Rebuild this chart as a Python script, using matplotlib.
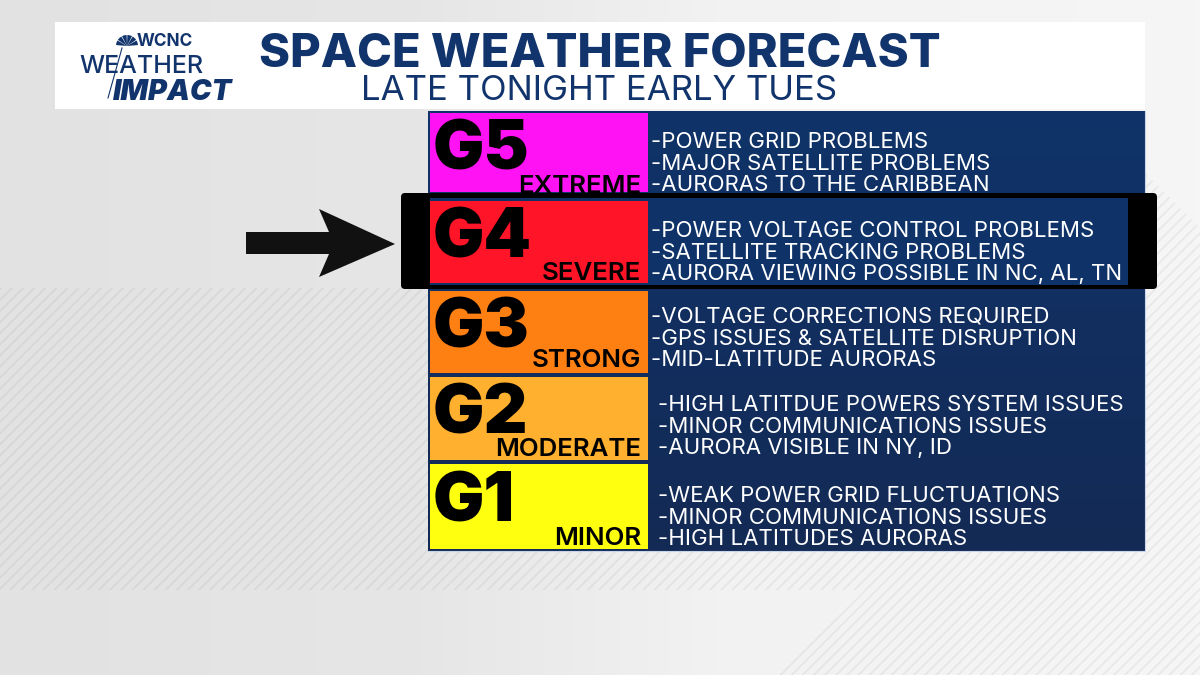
##### Space weather forecast graphic #####
import numpy as np
import matplotlib
matplotlib.use('Agg')
import matplotlib.pyplot as plt
from matplotlib.colors import LinearSegmentedColormap
from matplotlib.patches import Rectangle, Polygon, FancyBboxPatch, Wedge

##### Data #####
title = "SPACE WEATHER FORECAST"
subtitle = "LATE TONIGHT EARLY TUES"

levels = ['G5', 'G4', 'G3', 'G2', 'G1']
severity = ['EXTREME', 'SEVERE', 'STRONG', 'MODERATE', 'MINOR']
level_colors = ['#ff12f4', '#ff1428', '#ff8012', '#ffb02e', '#ffff10']
effects_g5 = ['-POWER GRID PROBLEMS', '-MAJOR SATELLITE PROBLEMS', '-AURORAS TO THE CARIBBEAN']
effects_g4 = ['-POWER VOLTAGE CONTROL PROBLEMS', '-SATELLITE TRACKING PROBLEMS', '-AURORA VIEWING POSSIBLE IN NC, AL, TN']
effects_g3 = ['-VOLTAGE CORRECTIONS REQUIRED', '-GPS ISSUES & SATELLITE DISRUPTION', '-MID-LATITUDE AURORAS']
effects_g2 = ['-HIGH LATITDUE POWERS SYSTEM ISSUES', '-MINOR COMMUNICATIONS ISSUES', '-AURORA VISIBLE IN NY, ID']
effects_g1 = ['-WEAK POWER GRID FLUCTUATIONS', '-MINOR COMMUNICATIONS ISSUES', '-HIGH LATITUDES AURORAS']
effects = [effects_g5, effects_g4, effects_g3, effects_g2, effects_g1]

##### Layout (pixels) #####
row_top = [113, 201, 291, 377, 464]
row_bottom = [192, 283, 373, 460, 549]
level_base = [170, 257, 347, 433, 521]
severity_base = [193, 280, 367, 456, 545]
effect_x = [651, 651, 651, 658, 658]
effect_base = [148, 237, 323, 411, 502]
NAVY = '#12346c'
FONT = 'Inter'

plt.rcParams['font.family'] = [FONT, 'DejaVu Sans']
plt.rcParams['hatch.linewidth'] = 1.3

fig = plt.figure(figsize=(12, 6.75), dpi=100)
ax = fig.add_axes([0, 0, 1, 1])

### background ###
bg_cmap = LinearSegmentedColormap.from_list('bg', [(0, '#e2e2e2'), (0.35, '#e6e6e6'), (0.6, '#f2f2f2'), (1, '#f6f6f6')])
ax.imshow(np.linspace(0, 1, 256).reshape(1, -1), cmap=bg_cmap, extent=(0, 1200, 675, 0), aspect='auto', zorder=0)

stripe_x = [0, 1140, 1140, 1200, 1200, 778, 865, 0]
stripe_y = [288, 288, 168, 228, 675, 675, 590, 590]
ax.add_patch(Polygon(list(zip(stripe_x, stripe_y)), closed=True, facecolor='none', edgecolor=(0, 0, 0, 0.05),
                     linewidth=0, hatch='///', zorder=1))

### header ###
ax.add_patch(Rectangle((55, 22), 1090, 87, facecolor='white', edgecolor='none', zorder=2))
ax.text(600, 67, title, color=NAVY, fontsize=33.9, fontweight=800, ha='center', va='baseline', zorder=3)
ax.text(599.5, 99.5, subtitle, color=NAVY, fontsize=25, ha='center', va='baseline', zorder=3)

# logo
for i in range(6):
    ax.add_patch(Wedge((127, 46), 11, 185 + i * 29, 210 + i * 29, facecolor=NAVY, zorder=3))
ax.text(137, 46, 'WCNC', color=NAVY, fontsize=12.4, fontweight='bold', ha='left', va='baseline', zorder=3)
ax.text(79, 73, 'WEATHER', color=NAVY, fontsize=18, fontweight='medium', ha='left', va='baseline', zorder=3)
ax.text(113, 100, 'IMPACT', color=NAVY, fontsize=20.8, fontweight='black', style='italic', ha='left', va='baseline', zorder=3)
ax.plot([108, 122], [98, 48], color=NAVY, linewidth=0.8, zorder=3)

### table ###
panel_cmap = LinearSegmentedColormap.from_list('panel', ['#0f3369', '#142a55'])
ax.imshow(np.linspace(0, 1, 256).reshape(-1, 1), cmap=panel_cmap, extent=(428, 1145, 551, 111), aspect='auto', zorder=2)
ax.plot([1145, 1145, 428], [111, 551, 551], color='#c8d4e8', linewidth=0.8, zorder=2)

### highlight around G4 ###
ax.add_patch(FancyBboxPatch((401, 193), 756, 96, boxstyle='round,pad=0,rounding_size=4', facecolor='black',
                            edgecolor='none', zorder=4))
ax.add_patch(Rectangle((430, 198), 698, 87, facecolor='#0f3369', edgecolor='none', zorder=4.5))

for i, level in enumerate(levels):
    top = row_top[i]
    bottom = row_bottom[i]
    # the G5 cell and its label sit under the black band, the others on top of it
    ax.add_patch(Rectangle((430, top), 218, bottom - top, facecolor=level_colors[i], edgecolor='none', zorder=3 if i == 0 else 5))
    ax.text(433, level_base[i], level, color='black', fontsize=49, fontweight='black', ha='left', va='baseline', zorder=6)
    ax.text(641, severity_base[i], severity[i], color='black', fontsize=18.6, fontweight='semibold', ha='right', va='baseline',
            zorder=3.5 if i == 0 else 6)
    for j, line in enumerate(effects[i]):
        ax.text(effect_x[i], effect_base[i] + j * 21.7, line, color='white', fontsize=16, ha='left', va='baseline', zorder=6)

### arrow ###
arrow_x = [246, 329, 319, 395, 319, 329, 246]
arrow_y = [232, 232, 209, 244, 277, 254, 254]
ax.add_patch(Polygon(list(zip(arrow_x, arrow_y)), closed=True, facecolor='#111111', edgecolor='none', zorder=5))

ax.set_xlim(0, 1200)
ax.set_ylim(675, 0)
ax.axis('off')

fig.savefig('out.png', dpi=100)
